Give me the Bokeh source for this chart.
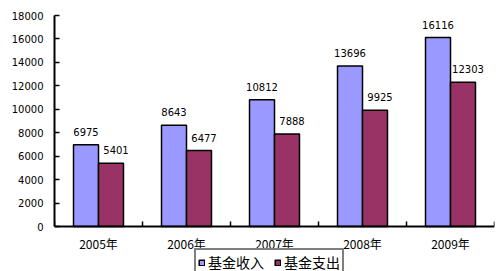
from bokeh.plotting import figure
from bokeh.models import ColumnDataSource, FixedTicker, Legend, LegendItem, Range1d
from bokeh.core.properties import value
from bokeh.embed import file_html
from bokeh.resources import INLINE

years = ["2005年", "2006年", "2007年", "2008年", "2009年"]
income = [6975, 8643, 10812, 13696, 16116]
expense = [5401, 6477, 7888, 9925, 12303]
y_ticks = [0, 2000, 4000, 6000, 8000, 10000, 12000, 14000, 16000, 18000]
series_names = ["基金收入", "基金支出"]

centers = [i + 0.5 for i in range(len(years))]
bw = 0.284

src_in = ColumnDataSource(dict(x=[c - bw / 2 for c in centers], top=income,
                               lab=[str(v) for v in income]))
src_ex = ColumnDataSource(dict(x=[c + bw / 2 for c in centers], top=expense,
                               lab=[str(v) for v in expense]))

# frame spans from y=15 to the bottom of the page; value 0 sits at y=226
y_min = -45 * 18000 / 211

p = figure(width=500, height=271, output_backend="svg", toolbar_location=None,
           x_range=Range1d(0, len(years)), y_range=Range1d(y_min, 18000),
           min_border_left=54, min_border_right=6, min_border_top=15, min_border_bottom=0)
p.outline_line_color = None
p.xgrid.visible = False
p.ygrid.visible = False
p.background_fill_color = "white"

r1 = p.vbar(x="x", top="top", bottom=0, width=bw, source=src_in, fill_color="#9999FF",
            line_color="black", line_width=1.5)
r2 = p.vbar(x="x", top="top", bottom=0, width=bw, source=src_ex, fill_color="#993366",
            line_color="black", line_width=1.5)

p.text(x="x", y="top", text="lab", source=src_in, text_align="center",
       text_baseline="bottom", y_offset=-9, text_font=value("DejaVu Sans"),
       text_font_size="10px", text_color="black")
p.text(x="x", y="top", text="lab", source=src_ex, text_align="center",
       text_baseline="bottom", y_offset=-9, x_offset=5, text_font=value("DejaVu Sans"),
       text_font_size="10px", text_color="black")

# y axis
ya = p.yaxis[0]
ya.ticker = FixedTicker(ticks=y_ticks)
ya.bounds = (0, 18000)
ya.axis_line_color = "black"
ya.axis_line_width = 2
ya.major_tick_in = 5
ya.major_tick_out = 0
ya.major_tick_line_color = "black"
ya.major_tick_line_width = 1.5
ya.minor_tick_line_color = None
ya.major_label_standoff = 11
ya.major_label_text_font = "DejaVu Sans"
ya.major_label_text_font_size = "10px"
ya.major_label_text_color = "black"

# x axis, drawn at y = 0
xa = p.xaxis[0]
xa.fixed_location = 0
xa.ticker = FixedTicker(ticks=centers, minor_ticks=list(range(len(years) + 1)))
xa.major_label_overrides = {c: y for c, y in zip(centers, years)}
xa.axis_line_color = "black"
xa.axis_line_width = 2
xa.major_tick_line_color = None
xa.major_tick_in = 0
xa.major_tick_out = 0
xa.minor_tick_in = 5
xa.minor_tick_out = 0
xa.minor_tick_line_color = "black"
xa.minor_tick_line_width = 1.5
xa.major_label_standoff = 8
xa.major_label_text_font = "Noto Sans CJK SC"
xa.major_label_text_font_size = "12px"
xa.major_label_text_color = "black"

legend = Legend(items=[LegendItem(label=series_names[0], renderers=[r1]),
                       LegendItem(label=series_names[1], renderers=[r2])],
                orientation="horizontal", location=(140, -5),
                glyph_width=7, glyph_height=7, label_height=14, label_standoff=3,
                spacing=10, padding=2, margin=0,
                label_text_font="Noto Sans CJK SC", label_text_font_size="14px",
                label_text_color="black", border_line_color="black",
                border_line_width=2, background_fill_color="white",
                background_fill_alpha=1)
p.add_layout(legend, "center")

open("out.html", "w").write(file_html(p, INLINE))
